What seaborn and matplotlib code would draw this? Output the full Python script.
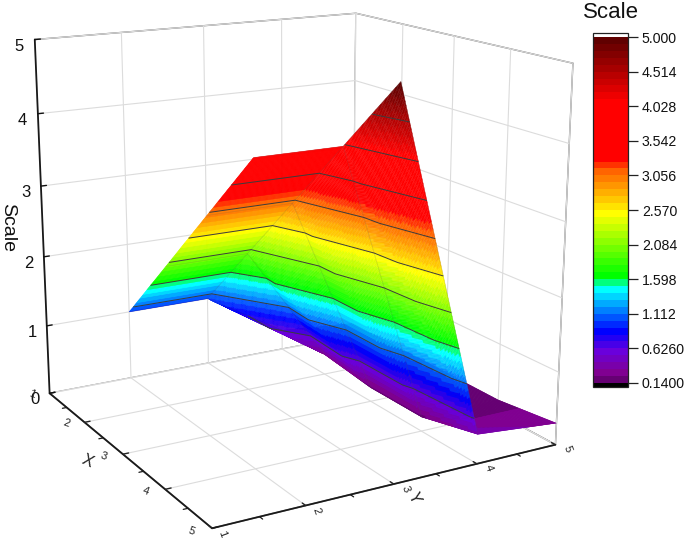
import numpy as np
import matplotlib
matplotlib.use('Agg')
import matplotlib.pyplot as plt
from matplotlib.colors import ListedColormap, BoundaryNorm
from matplotlib.cm import ScalarMappable
from mpl_toolkits.mplot3d import proj3d
import seaborn as sns

# surface heights (no data at y=1 and at x=5, y=2)
x_vals = [1, 2, 3, 4, 5]
y_vals = [2, 3, 4, 5]
z_y2 = [1.0, 2.0, 3.0, 4.0, np.nan]
z_y3 = [1.0, 2.0, 3.0, 4.0, 5.0]
z_y4 = [0.3, 0.3, 0.2, 0.2, 0.4]
z_y5 = [0.2, 0.2, 0.2, 0.2, 0.3]

bar_ticks = [0.14, 0.626, 1.112, 1.598, 2.084, 2.57, 3.056, 3.542, 4.028, 4.514, 5.0]
bar_labels = ['0.1400', '0.6260', '1.112', '1.598', '2.084', '2.570', '3.056', '3.542', '4.028', '4.514', '5.000']

# colour ramp of the legend: stops from low to high and number of bands between them
ramp_colors = ['#4b0055', '#800091', '#6a00dc', '#0000ff', '#00ffff', '#00ff00',
               '#ffff00', '#ffc800', '#ff6400', '#ff0000', '#ff0000', '#600000']
ramp_bands = [2, 3, 3, 6, 2, 9, 2, 4, 2, 8, 9]

sns.set_theme(style='ticks', rc={'grid.color': '#dcdcdc', 'grid.linewidth': 0.8,
                                 'xtick.major.width': 1.0, 'ytick.major.width': 1.0,
                                 'axes.linewidth': 0.9, 'axes.edgecolor': '#707070'})
plt.rcParams['font.family'] = ['Liberation Sans', 'DejaVu Sans']

bands = []
for i, n in enumerate(ramp_bands):
    bands += sns.blend_palette([ramp_colors[i], ramp_colors[i + 1]], n + 1)[1:]
cmap = ListedColormap(bands)
cmap.set_under('black')
cmap.set_over('white')
norm = BoundaryNorm(np.linspace(0.14, 5, 51), cmap.N)

Z = np.array([z_y2, z_y3, z_y4, z_y5])

# finer mesh over each cell only so the colour bands look smooth,
# each cell is two flat triangles split along its (low x, low y) diagonal
xf = np.linspace(1, 5, 4 * 48 + 1)
yf = np.linspace(2, 5, 3 * 96 + 1)
XF, YF = np.meshgrid(xf, yf)
ix = np.minimum((XF - 1).astype(int), 3)
iy = np.minimum((YF - 2).astype(int), 2)
tx = XF - 1 - ix
ty = YF - 2 - iy
z00 = Z[iy, ix]
z10 = Z[iy, ix + 1]
z01 = Z[iy + 1, ix]
z11 = Z[iy + 1, ix + 1]
with np.errstate(invalid='ignore'):
    ZF = np.where(tx >= ty, z00 + tx * (np.nan_to_num(z10) - z00) + ty * (z11 - np.nan_to_num(z10)),
                  z00 + ty * (z01 - z00) + tx * (z11 - z01))
ZF[np.isnan(z10) & (tx > 0)] = np.nan

mid = (ZF[:-1, :-1] + ZF[1:, :-1] + ZF[:-1, 1:] + ZF[1:, 1:]) / 4
face = np.zeros(ZF.shape + (4,))
face[:-1, :-1] = cmap(norm(np.ma.masked_invalid(mid)))
face[:-1, :-1, 3] = np.where(np.isfinite(mid), 1, 0)

fig = plt.figure(figsize=(6.85, 5.38), dpi=100)
side = 641.2
ax = fig.add_axes([-36.76 / 685, -31.36 / 538, side / 685, side / 538],
                  projection='3d', computed_zorder=False)
ax.patch.set_visible(False)
ax.view_init(elev=15.71, azim=-29.77)
ax.set_proj_type('persp', focal_length=0.482)
ax.set_box_aspect((4, 4, 3.994))

ax.plot_surface(XF, YF, ZF, facecolors=face, rstride=1, cstride=1, shade=False,
                linewidth=0.25, antialiased=True, zorder=1)
ax.contour(XF, YF, ZF, levels=bar_ticks[1:-1], colors='#3c3c3c', linewidths=0.7, zorder=3)

# faint mesh lines of the data cells
for i in range(len(x_vals)):
    ax.plot([x_vals[i]] * 3, y_vals[:3], Z[:3, i], color='#555555', alpha=0.18, lw=0.6, zorder=2)
ax.plot(x_vals, [3] * 5, Z[1], color='#555555', alpha=0.18, lw=0.6, zorder=2)

# half-step ticks on the floor axes
for m in [1.5, 2.5, 3.5, 4.5]:
    ax.plot([m, m], [1, 0.95], [0, 0], color='k', lw=0.9, zorder=4)
    ax.plot([5, 5.06], [m, m], [0, 0], color='k', lw=0.9, zorder=4)

ax.set_xlim(1, 5, view_margin=0)
ax.set_ylim(1, 5, view_margin=0)
ax.set_zlim(0, 5, view_margin=0)
ax.set_xticks(x_vals)
ax.set_yticks([1, 2, 3, 4, 5])
ax.set_zticks([0, 1, 2, 3, 4, 5])
ax.xaxis.set_tick_params(label1On=False)
ax.yaxis.set_tick_params(label1On=False)

# tick labels of the floor axes lie flat on the floor, next to their ticks
# (nudged up a little so the lowest ones stay inside the figure)
M = ax.get_proj()
for v in [1, 2, 3, 4, 5]:
    px, py, _ = proj3d.proj_transform(v, 0.79, 0, M)
    ax.text2D(px, py + 0.0007, str(v), transform=ax.transData, fontsize=8, rotation=-20,
              ha='center', va='center', color='#222222')
    px, py, _ = proj3d.proj_transform(5.2, v, 0, M)
    ax.text2D(px, py + 0.0007, str(v), transform=ax.transData, fontsize=8, rotation=-70,
              ha='center', va='center', color='#222222')

ax.zaxis.set_ticks_position('lower')
for axis in [ax.xaxis, ax.yaxis, ax.zaxis]:
    axis.set_pane_color((1, 1, 1, 1))
    axis.pane.set_edgecolor('#707070')
    axis.line.set_color('k')
    axis.line.set_linewidth(1.3)
    axis._axinfo['tick']['inward_factor'] = 0.0
    axis._axinfo['tick']['outward_factor'] = 0.2
ax.tick_params(axis='z', labelsize=12, pad=-0.5, colors='#111111')

fig.text(87 / 685, 1 - 461 / 538, 'X', fontsize=11.5, rotation=-25, ha='center', va='center', color='#222222')
fig.text(414 / 685, 1 - 498 / 538, 'Y', fontsize=11.5, rotation=-65, ha='center', va='center', color='#222222')
fig.text(8 / 685, 1 - 227 / 538, 'Scale', fontsize=14, rotation=-90, ha='center', va='center', color='#111111')

cax = fig.add_axes([593 / 685, 151 / 538, 35 / 685, 354 / 538])
cbar = fig.colorbar(ScalarMappable(norm=norm, cmap=cmap), cax=cax, extend='both',
                    extendrect=True, extendfrac=0.0116, ticks=bar_ticks)
cbar.ax.minorticks_off()
cbar.set_ticklabels(bar_labels)
cbar.ax.tick_params(labelsize=10.2, length=7, width=0.9, color='#222222', pad=3, labelcolor='#111111')
cbar.outline.set_edgecolor('#222222')
cbar.outline.set_linewidth(0.9)
cbar.ax.set_title('Scale', fontsize=16, pad=14, color='#111111')

fig.savefig('out.png', dpi=100)
